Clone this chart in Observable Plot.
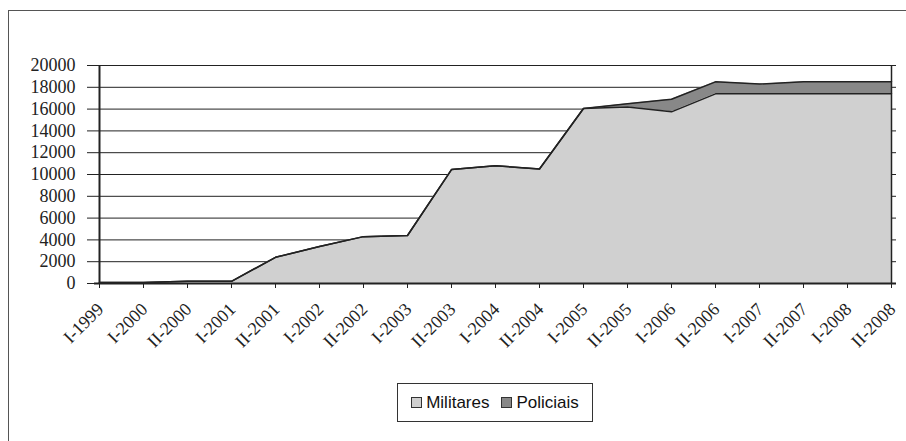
<!DOCTYPE html>
<html>
<head>
<meta charset="utf-8">
<script src="https://cdn.jsdelivr.net/npm/d3@7"></script>
<script src="https://cdn.jsdelivr.net/npm/@observablehq/plot@0.6"></script>
<style>
  html, body { margin: 0; padding: 0; background: #fff; overflow: hidden; width: 906px; height: 441px; }
  #frame { position: absolute; left: 8px; top: 10px; width: 1000px; height: 1000px; border: 1px solid #555; }
  #chart { position: absolute; left: 0; top: 0; }
  #legend { position: absolute; left: 397px; top: 383px; width: 194px; height: 37px; border: 1px solid #333;
    font-family: "Liberation Sans", Arial, sans-serif; font-size: 17px; color: #111;
    display: flex; align-items: center; justify-content: center; gap: 0; }
  .item { display: flex; align-items: center; margin: 0 6px 0 6px; }
  .sw { width: 9px; height: 9px; border: 1px solid #333; margin-right: 4px; }
</style>
</head>
<body>
<div id="frame"></div>
<div id="chart"></div>
<div id="legend"></div>
<script>
const categories = ["I-1999","I-2000","II-2000","I-2001","II-2001","I-2002","II-2002","I-2003","II-2003","I-2004","II-2004","I-2005","II-2005","I-2006","II-2006","I-2007","II-2007","I-2008","II-2008"];
const militares = [100,100,200,200,2400,3400,4300,4400,10450,10800,10500,16050,16200,15750,17400,17400,17400,17400,17400];
const policiais = [0,0,0,0,0,0,0,0,0,0,0,0,300,1150,1100,900,1100,1100,1100];
const seriesNames = ["Militares","Policiais"];
const seriesColors = ["#d0d0d0","#888888"];
const yTicks = [0,2000,4000,6000,8000,10000,12000,14000,16000,18000,20000];

const data = categories.flatMap((c, i) => [
  {cat: c, series: "Militares", value: militares[i]},
  {cat: c, series: "Policiais", value: policiais[i]}
]);
const milRows = categories.map((c, i) => ({cat: c, value: militares[i]}));
const totRows = categories.map((c, i) => ({cat: c, value: militares[i] + policiais[i]}));

const chart = Plot.plot({
  width: 906, height: 441,
  marginLeft: 94, marginRight: 10, marginTop: 65, marginBottom: 158,
  style: {fontFamily: "'Liberation Serif', 'Times New Roman', serif", fontSize: "18px", color: "#222", background: "transparent"},
  x: {type: "point", domain: categories, range: [94, 896], padding: 0, label: null, axis: null},
  y: {domain: [0, 20000], range: [283, 65], ticks: yTicks, tickFormat: d => String(d), label: null, tickSize: 7, tickPadding: 12},
  color: {domain: seriesNames, range: seriesColors},
  marks: [
    Plot.ruleY(yTicks.slice(1), {stroke: "#222", strokeWidth: 1}),
    Plot.areaY(data, {x: "cat", y: "value", fill: "series"}),
    Plot.lineY(totRows, {x: "cat", y: "value", stroke: "#222", strokeWidth: 1.5}),
    Plot.lineY(milRows, {x: "cat", y: "value", stroke: "#222", strokeWidth: 1.5}),
    Plot.axisX({tickSize: 5, tickFormat: () => "", label: null}),
    Plot.axisX({tickSize: 0, tickRotate: -45, dy: 11, dx: 1, label: null}),
    Plot.ruleY([0], {stroke: "#222", strokeWidth: 2}),
    Plot.ruleX([categories[0]], {stroke: "#222", strokeWidth: 2}),
    Plot.ruleX([categories[categories.length - 1]], {stroke: "#222", strokeWidth: 1.5})
  ]
});
document.getElementById("chart").appendChild(chart);

const legend = document.getElementById("legend");
seriesNames.forEach((name, i) => {
  const item = document.createElement("div");
  item.className = "item";
  const sw = document.createElement("div");
  sw.className = "sw";
  sw.style.background = seriesColors[i];
  const label = document.createElement("span");
  label.textContent = name;
  item.appendChild(sw);
  item.appendChild(label);
  legend.appendChild(item);
});
</script>
</body>
</html>
